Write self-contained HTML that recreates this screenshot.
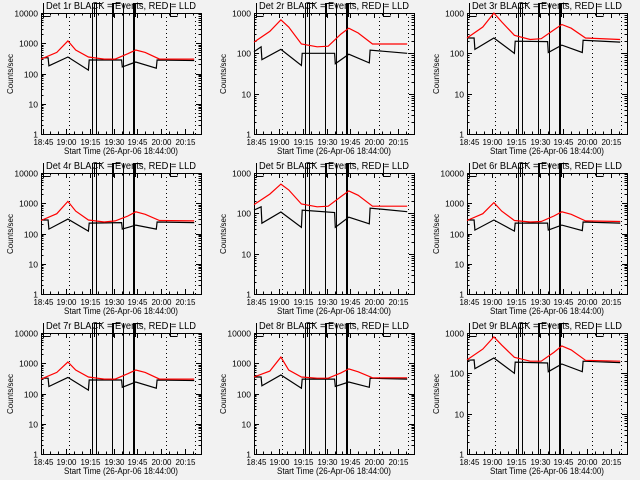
<!DOCTYPE html>
<html><head><meta charset="utf-8">
<style>
html,body{margin:0;padding:0;background:#f2f2f2;}
svg{display:block;font-family:"Liberation Sans",sans-serif;}
</style></head>
<body>
<svg id="chart" width="640" height="480" viewBox="0 0 640 480" xmlns="http://www.w3.org/2000/svg">
<rect x="0" y="0" width="640" height="480" fill="#f2f2f2"/>
</svg>
<script>
// shared time grids (minutes since 18:44:00)
const blackTimes = [0, 4.5, 5, 17, 30, 30.5, 51, 51.5, 60, 73, 73.5, 97];
const redTimes = [0, 10, 17, 22, 30, 40, 47, 55, 60, 66, 75, 97];
const detectors = ["1r","2r","3r","4r","5r","6r","7r","8r","9r"];
const decades = [4,3,3,4,3,4,4,4,3];
const black1 = [330,330,180,350,130,280,280,165,240,150,280,270];
const red1 = [300,500,1200,600,350,300,300,450,600,500,300,300];
const black2 = [110,145,70,125,50,100,100,55,95,58,120,100];
const red2 = [190,350,680,450,170,145,150,300,420,320,170,170];
const black3 = [240,240,125,240,100,200,195,105,160,105,210,190];
const red3 = [240,450,1000,600,280,220,230,380,520,420,240,220];
const black4 = [280,280,140,300,120,220,230,140,190,140,240,230];
const red4 = [270,450,1150,550,280,240,260,380,520,430,270,260];
const black5 = [120,145,57,108,45,120,105,45,80,55,135,110];
const red5 = [165,300,530,380,170,145,150,260,360,280,150,150];
const black6 = [280,280,130,280,120,220,220,130,190,125,240,220];
const red6 = [270,450,1050,550,270,240,250,380,520,430,260,250];
const black7 = [320,320,170,340,130,280,280,160,240,150,280,270];
const red7 = [300,500,1100,600,350,300,300,450,600,500,300,300];
const black8 = [350,350,180,410,150,300,300,170,240,160,320,300];
const red8 = [350,550,1600,600,350,320,320,480,650,520,330,330];
const black9 = [210,215,130,240,100,190,180,110,170,110,200,185];
const red9 = [215,400,800,500,250,200,200,330,480,380,210,200];
const blackSeries = [black1,black2,black3,black4,black5,black6,black7,black8,black9];
const redSeries = [red1,red2,red3,red4,red5,red6,red7,red8,red9];
const xTickLabels = ["18:45","19:00","19:15","19:30","19:45","20:00","20:15"];
const xTickTimes = [1,16,31,46,61,76,91];
const solidLineTimes = [32.3, 34.8, 44.9, 51.9, 58.2, 58.9];
const dottedLineTimes = [17.7, 79.1, 97.5];
const markerTimes = [1.3, 33.5, 45.5, 59.5, 81.5];

const NS = "http://www.w3.org/2000/svg";
const svg = document.getElementById("chart");
function mk(tag, attrs, parent){
  const e = document.createElementNS(NS, tag);
  for (const k in attrs) e.setAttribute(k, attrs[k]);
  (parent||svg).appendChild(e);
  return e;
}
const PL = 41, PR = 201, PT = 13, PB = 134, TMAX = 101.3;

for (let i = 0; i < 9; i++) {
  const ox = (i % 3) * 213, oy = Math.floor(i / 3) * 160;
  const g = mk("g", {transform: "translate(" + ox + "," + oy + ")"});
  
  
  const dec = decades[i];
  const xs = t => Math.round(PL + (t / TMAX) * (PR - PL)) + 0.5;
  const ys = v => PB - (Math.log10(v) / dec) * (PB - PT);
  const yr = v => Math.round(ys(v)) + 0.5;

  // title
  const title = mk("text", {x: 46, y: 9, "font-size": 10, textLength: 150, lengthAdjust: "spacingAndGlyphs", fill: "#000"}, g);
  title.textContent = "Det " + detectors[i] + " BLACK = Events, RED = LLD";
  
  

  // frame
  const frame = mk("rect", {x: PL + 0.5, y: PT + 0.5, width: PR - PL, height: PB - PT, fill: "none", stroke: "#000", "stroke-width": 1, "shape-rendering": "crispEdges"}, g);
  
  

  // y ticks
  for (let d = 0; d <= dec; d++) {
    const y = yr(Math.pow(10, d));
    mk("line", {x1: PL, x2: PL + 5, y1: y, y2: y, stroke: "#000", "shape-rendering": "crispEdges"}, g);
    mk("line", {x1: PR - 5, x2: PR, y1: y, y2: y, stroke: "#000", "shape-rendering": "crispEdges"}, g);
    const lab = mk("text", {x: PL - 3, y: y + 3, "font-size": 8.5, "text-anchor": "end"}, g);
    lab.textContent = String(Math.pow(10, d));
    
    
    if (d < dec) for (let m = 2; m <= 9; m++) {
      const ym = yr(m * Math.pow(10, d));
      mk("line", {x1: PL, x2: PL + 2.5, y1: ym, y2: ym, stroke: "#000", "shape-rendering": "crispEdges"}, g);
      mk("line", {x1: PR - 2.5, x2: PR, y1: ym, y2: ym, stroke: "#000", "shape-rendering": "crispEdges"}, g);
    }
  }
  // x ticks
  for (let k = 0; k < xTickTimes.length; k++) {
    const x = xs(xTickTimes[k]);
    mk("line", {x1: x, x2: x, y1: PB, y2: PB - 5, stroke: "#000", "shape-rendering": "crispEdges"}, g);
    mk("line", {x1: x, x2: x, y1: PT, y2: PT + 5, stroke: "#000", "shape-rendering": "crispEdges"}, g);
    const lab = mk("text", {x: x, y: 145, "font-size": 8, "text-anchor": "middle"}, g);
    lab.textContent = xTickLabels[k];
    
    
  }
  for (let t = 1; t < TMAX; t += 5) {
    const x = xs(t);
    mk("line", {x1: x, x2: x, y1: PB, y2: PB - 2.5, stroke: "#000", "shape-rendering": "crispEdges"}, g);
    mk("line", {x1: x, x2: x, y1: PT, y2: PT + 2.5, stroke: "#000", "shape-rendering": "crispEdges"}, g);
  }
  // axis titles
  const xt = mk("text", {x: 64, y: 154, "font-size": 9, textLength: 114, lengthAdjust: "spacingAndGlyphs"}, g);
  xt.textContent = "Start Time (26-Apr-06 18:44:00)";
  
  
  const yt = mk("text", {x: 0, y: 0, "font-size": 8, "text-anchor": "middle", transform: "translate(13,74) rotate(-90)"}, g);
  yt.textContent = "Counts/sec";
  
  

  // dotted lines
  for (const t of dottedLineTimes) {
    const l = mk("line", {x1: xs(t), x2: xs(t), y1: PT, y2: PB, stroke: "#000", "stroke-dasharray": "1,3", "shape-rendering": "crispEdges"}, g);
    
    
  }
  // solid lines
  for (const t of solidLineTimes) {
    const l = mk("line", {x1: xs(t), x2: xs(t), y1: 3, y2: PB, stroke: "#000", "stroke-width": 1, "shape-rendering": "crispEdges"}, g);
    
    
  }
  // top markers
  markerTimes.forEach((t, k) => {
    const x = xs(t);
    const yb = (k === 0 || k === 4) ? 16.5 : 3.5;
    const p = mk("path", {d: "M" + x + " 3 L" + x + " 17 M" + x + " " + yb + " L" + (x + 7) + " " + yb, stroke: "#000", fill: "none", "shape-rendering": "crispEdges"}, g);
    
    
  });

  // series
  const line = (times, vals, color, name) => {
    const d = times.map((t, k) => (k ? "L" : "M") + (PL + (t / TMAX) * (PR - PL)).toFixed(1) + " " + ys(vals[k]).toFixed(1)).join(" ");
    const p = mk("path", {d: d, stroke: color, fill: "none", "stroke-width": 1.2}, g);
    
    
  };
  line(blackTimes, blackSeries[i], "#000", "events-series");
  line(redTimes, redSeries[i], "#ff0000", "lld-series");
}
</script>
</body></html>
